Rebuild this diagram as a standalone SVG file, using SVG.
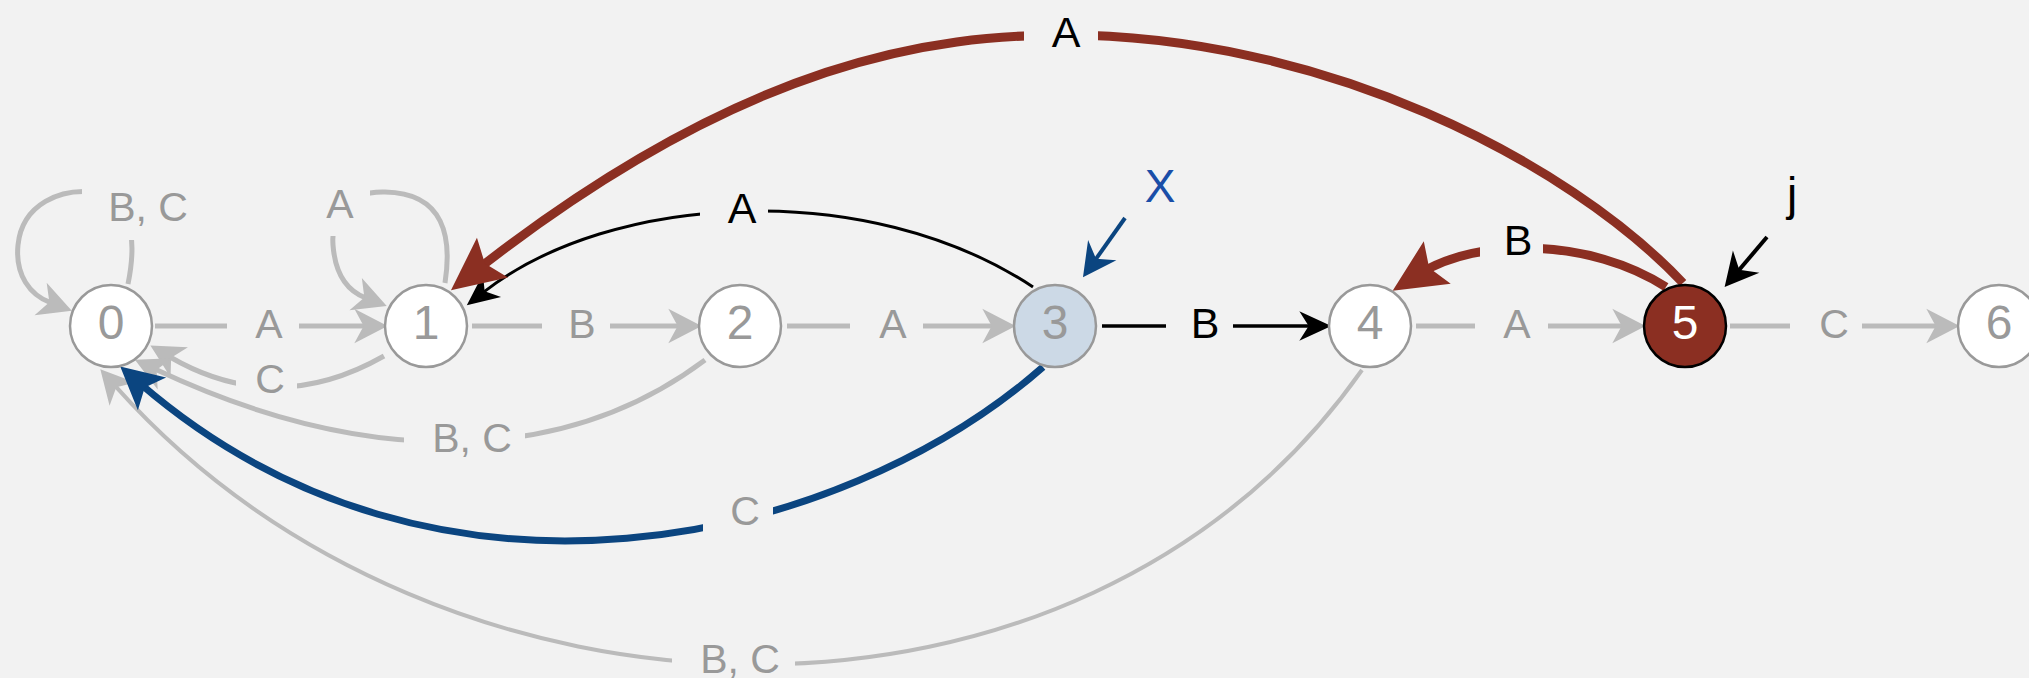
<svg xmlns="http://www.w3.org/2000/svg" width="2029" height="678" viewBox="0 0 2029 678">
<style>
.bg{fill:#f2f2f2}
.node circle{fill:#ffffff;stroke:#999999;stroke-width:2.5}
.node text{font-family:"Liberation Sans",Arial,sans-serif;font-size:48px;fill:#999999;text-anchor:middle}
.g{fill:none;stroke:#bbbbbb;stroke-width:5}
.gt{fill:none;stroke:#bbbbbb;stroke-width:4}
.k{fill:none;stroke:#000000;stroke-width:3.5}
.r{fill:none;stroke:#8b2f22;stroke-width:9}
.b{fill:none;stroke:#0b4580;stroke-width:7}
.bp{fill:none;stroke:#0b4580;stroke-width:4}
.lbl{font-family:"Liberation Sans",Arial,sans-serif;font-size:41px;text-anchor:middle}
.lg{fill:#999999}
.lk{fill:#000000;font-size:43px}
.lx{fill:#1a4ea8;font-size:46px}
</style>
<defs>
<marker id="ag" markerUnits="userSpaceOnUse" markerWidth="40" markerHeight="40" viewBox="-10 -15 30 30" refX="0" refY="0" orient="auto" overflow="visible"><path d="M17,0 L-8,-13 L-1,0 L-8,13 Z" fill="#bbbbbb"/></marker>
<marker id="ak" markerUnits="userSpaceOnUse" markerWidth="40" markerHeight="40" viewBox="-10 -15 30 30" refX="0" refY="0" orient="auto" overflow="visible"><path d="M16,0 L-8,-11 L-1,0 L-8,11 Z" fill="#000000"/></marker>
<marker id="akp" markerUnits="userSpaceOnUse" markerWidth="40" markerHeight="40" viewBox="-10 -15 30 30" refX="0" refY="0" orient="auto" overflow="visible"><path d="M16,0 L-9,-13 L-1,0 L-9,13 Z" fill="#000000"/></marker>
<marker id="abp" markerUnits="userSpaceOnUse" markerWidth="40" markerHeight="40" viewBox="-10 -15 30 30" refX="0" refY="0" orient="auto" overflow="visible"><path d="M16,0 L-9,-13 L-1,0 L-9,13 Z" fill="#0b4580"/></marker>
<marker id="ab" markerUnits="userSpaceOnUse" markerWidth="60" markerHeight="60" viewBox="-20 -25 50 50" refX="0" refY="0" orient="auto" overflow="visible"><path d="M22,0 L-13,-18 L-5,0 L-13,18 Z" fill="#0b4580"/></marker>
<marker id="ar" markerUnits="userSpaceOnUse" markerWidth="60" markerHeight="60" viewBox="-20 -25 50 50" refX="0" refY="0" orient="auto" overflow="visible"><path d="M26,0 L-18,-21 L-10,0 L-18,21 Z" fill="#8b2f22"/></marker>
<mask id="gaps" maskUnits="userSpaceOnUse" x="0" y="0" width="2029" height="678">
<rect x="0" y="0" width="2029" height="678" fill="#ffffff"/>
<rect x="82" y="170" width="118" height="70" fill="#000000"/>
<rect x="315" y="170" width="55" height="66" fill="#000000"/>
<rect x="227" y="305" width="72" height="40" fill="#000000"/>
<rect x="542" y="305" width="68" height="40" fill="#000000"/>
<rect x="850" y="305" width="73" height="40" fill="#000000"/>
<rect x="1166" y="305" width="67" height="40" fill="#000000"/>
<rect x="1475" y="305" width="73" height="40" fill="#000000"/>
<rect x="1790" y="305" width="72" height="40" fill="#000000"/>
<rect x="236" y="355" width="61" height="43" fill="#000000"/>
<rect x="404" y="405" width="121" height="60" fill="#000000"/>
<rect x="703" y="480" width="70" height="60" fill="#000000"/>
<rect x="672" y="625" width="123" height="53" fill="#000000"/>
<rect x="700" y="180" width="68" height="55" fill="#000000"/>
<rect x="1024" y="0" width="74" height="70" fill="#000000"/>
<rect x="1480" y="215" width="63" height="50" fill="#000000"/>
</mask>
</defs>
<rect class="bg" x="0" y="0" width="2029" height="678"/>
<g id="connectors">
<g mask="url(#gaps)">
<path class="g" d="M128,284 C136,245 134,200 100,193 C60,186 22,205 18,245 C15,275 30,295 50.6,302.7" marker-end="url(#ag)"/>
<path class="g" d="M445,283 C452,238 445,193 385,192 C345,191 331,215 333,245 C335,272 345,290 365.6,297.9" marker-end="url(#ag)"/>
<path class="g" d="M155,326 L365,326" marker-end="url(#ag)"/>
<path class="g" d="M472,326 L679,326" marker-end="url(#ag)"/>
<path class="g" d="M787,326 L993,326" marker-end="url(#ag)"/>
<path class="k" d="M1102,326 L1310,326" marker-end="url(#ak)"/>
<path class="g" d="M1416,326 L1623,326" marker-end="url(#ag)"/>
<path class="g" d="M1730,326 L1937,326" marker-end="url(#ag)"/>
<path class="g" d="M384,356 Q275,418 170,357" marker-end="url(#ag)"/>
<path class="g" d="M705,360 C561,468 363,467 155.4,369.3" marker-end="url(#ag)"/>
<path class="gt" d="M1362,370 C1080,770 440,750 115.4,386.2" marker-end="url(#ag)"/>
<path class="b" d="M1043,367 C840,545 437,640 140.2,383.7" marker-end="url(#ab)"/>
<path class="k" style="stroke-width:3" d="M1033,287 C867,177 610,193 483.6,292.1" marker-end="url(#ak)"/>
<path class="r" d="M1683,283 C1567,160 1320,34 1060,35 C940,36 751,55 475.5,271" marker-end="url(#ar)"/>
<path class="r" d="M1666,287 C1590.4,238.4 1478.3,236.6 1419,274.1" marker-end="url(#ar)"/>
</g>
<path class="bp" d="M1125,218 L1095.3,259.9" marker-end="url(#abp)"/>
<path class="k" style="stroke-width:4" d="M1767,237 L1738.4,270.8" marker-end="url(#akp)"/>
<g class="lbl">
<text class="lg" x="148" y="221">B, C</text>
<text class="lg" x="340" y="218">A</text>
<text class="lg" x="269" y="338">A</text>
<text class="lg" x="582" y="338">B</text>
<text class="lg" x="893" y="338">A</text>
<text class="lk" x="1205" y="338">B</text>
<text class="lg" x="1517" y="338">A</text>
<text class="lg" x="1834" y="338">C</text>
<text class="lg" x="270" y="393">C</text>
<text class="lg" x="472" y="452">B, C</text>
<text class="lg" x="745" y="525">C</text>
<text class="lg" x="740" y="673">B, C</text>
<text class="lk" x="742" y="223">A</text>
<text class="lk" x="1066" y="47">A</text>
<text class="lk" x="1518" y="255">B</text>
<text class="lx" x="1160" y="202">X</text>
<text class="lk" style="font-size:46px" x="1792" y="210">j</text>
</g>
</g>
<g id="node0" class="node"><circle cx="111" cy="326" r="41"/><text x="111" y="339">0</text></g>
<g id="node1" class="node"><circle cx="426" cy="326" r="41"/><text x="426" y="339">1</text></g>
<g id="node2" class="node"><circle cx="740" cy="326" r="41"/><text x="740" y="339">2</text></g>
<g id="node3" class="node"><circle cx="1055" cy="326" r="41" style="fill:#ccd9e6"/><text x="1055" y="339">3</text></g>
<g id="node4" class="node"><circle cx="1370" cy="326" r="41"/><text x="1370" y="339">4</text></g>
<g id="node5" class="node"><circle cx="1685" cy="326" r="41" style="fill:#8b2f22;stroke:#000000"/><text x="1685" y="339" style="fill:#ffffff">5</text></g>
<g id="node6" class="node"><circle cx="1999" cy="326" r="41"/><text x="1999" y="339">6</text></g>
</svg>
